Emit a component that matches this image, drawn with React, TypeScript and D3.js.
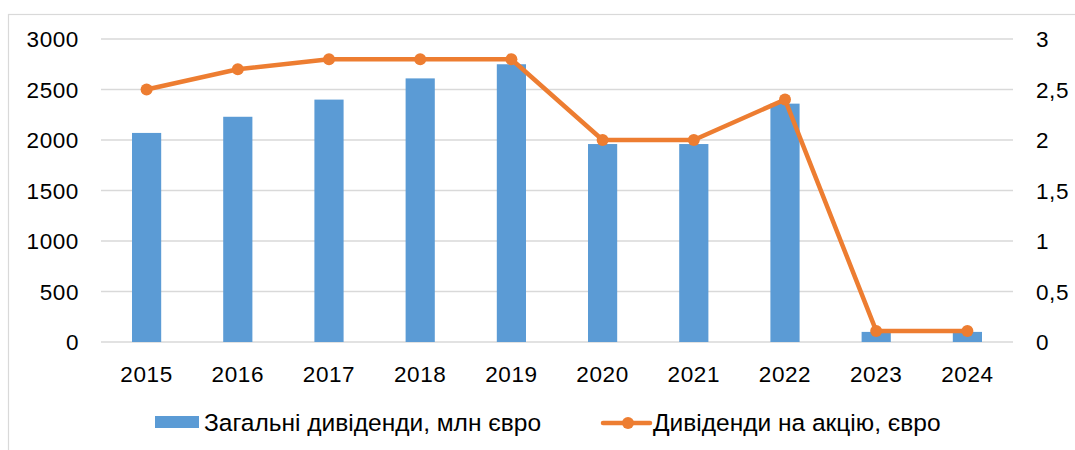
import React from "react";
import * as d3 from "d3";

const years = ["2015", "2016", "2017", "2018", "2019", "2020", "2021", "2022", "2023", "2024"];
const totalDividends = [2070, 2230, 2400, 2610, 2750, 1960, 1960, 2360, 100, 100];
const dividendPerShare = [2.5, 2.7, 2.8, 2.8, 2.8, 2.0, 2.0, 2.4, 0.11, 0.11];
const leftTicks = [0, 500, 1000, 1500, 2000, 2500, 3000];
const rightTicks = [0, 0.5, 1, 1.5, 2, 2.5, 3];
const seriesNames = ["Загальні дивіденди, млн євро", "Дивіденди на акцію, євро"];

const W = 1075;
const H = 450;
const BLUE = "#5B9BD5";
const ORANGE = "#ED7D31";
const GRID = "#D9D9D9";
const FONT = "'Liberation Sans', Arial, sans-serif";

export default function App() {
  const x = d3.scaleBand<string>().domain(years).range([101, 1013]).paddingInner(0.68).paddingOuter(0.34);
  const xc = (y: string) => (x(y) as number) + x.bandwidth() / 2;
  const yL = d3.scaleLinear().domain([0, 3000]).range([342, 39]);
  const yR = d3.scaleLinear().domain([0, 3]).range([342, 39]);
  const fmtR = (v: number) => String(v).replace(".", ",");
  const line = d3
    .line<number>()
    .x((_, i) => xc(years[i]))
    .y((d) => yR(d));

  return (
    <svg width={W} height={H} style={{ position: "absolute", left: 0, top: 0, background: "#fff" }} fontFamily={FONT}>
      <rect x={8.5} y={14.5} width={1100} height={500} fill="#fff" stroke={GRID} strokeWidth={1.2} />
      {leftTicks.map((t) => (
        <line key={"g" + t} x1={101} x2={1013} y1={yL(t)} y2={yL(t)} stroke={GRID} strokeWidth={1.3} />
      ))}
      {leftTicks.map((t) => (
        <text key={"l" + t} x={79} y={yL(t)} dy="0.36em" textAnchor="end" fontSize={22.5} letterSpacing={0.6} fill="#000">
          {t}
        </text>
      ))}
      {rightTicks.map((t) => (
        <text key={"r" + t} x={1036} y={yR(t)} dy="0.36em" textAnchor="start" fontSize={22.5} letterSpacing={0.6} fill="#000">
          {fmtR(t)}
        </text>
      ))}
      {years.map((yr, i) => (
        <rect
          key={"b" + yr}
          x={x(yr)}
          y={yL(totalDividends[i])}
          width={x.bandwidth()}
          height={yL(0) - yL(totalDividends[i])}
          fill={BLUE}
        />
      ))}
      {years.map((yr) => (
        <text key={"x" + yr} x={xc(yr)} y={382} textAnchor="middle" fontSize={22.5} letterSpacing={0.6} fill="#000">
          {yr}
        </text>
      ))}
      <path d={line(dividendPerShare) || ""} fill="none" stroke={ORANGE} strokeWidth={4.5} strokeLinejoin="round" />
      {years.map((yr, i) => (
        <circle key={"c" + yr} cx={xc(yr)} cy={yR(dividendPerShare[i])} r={6} fill={ORANGE} />
      ))}
      <g>
        <rect x={155} y={416} width={44} height={12} fill={BLUE} />
        <text x={204} y={431} fontSize={24.5} fill="#000">
          {seriesNames[0]}
        </text>
        <line x1={603} x2={650} y1={423} y2={423} stroke={ORANGE} strokeWidth={4.5} strokeLinecap="round" />
        <circle cx={628} cy={423} r={6} fill={ORANGE} />
        <text x={653} y={431} fontSize={24.5} fill="#000">
          {seriesNames[1]}
        </text>
      </g>
    </svg>
  );
}
